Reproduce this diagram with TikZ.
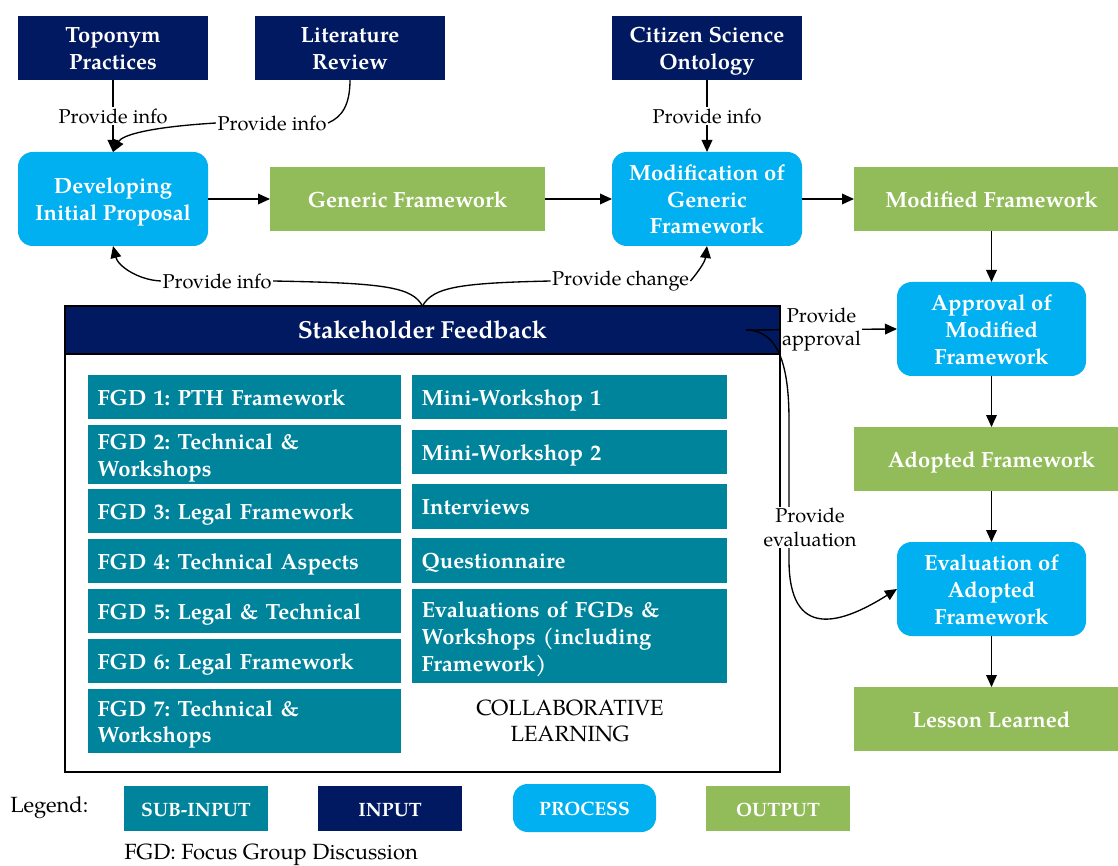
\documentclass[tikz,border=0pt]{standalone}
\usepackage{fontspec}
\setmainfont{TeX Gyre Pagella}
\usetikzlibrary{arrows.meta}
\definecolor{navy}{RGB}{0,25,96}
\definecolor{procblue}{RGB}{0,176,240}
\definecolor{outgreen}{RGB}{146,187,89}
\definecolor{subteal}{RGB}{0,132,155}
\frenchspacing
\newcommand\bfont{\fontsize{16.5}{20}\selectfont\bfseries}
\newcommand\hfont{\fontsize{18.5}{22}\selectfont\bfseries}
\newcommand\lfont{\fontsize{15}{17.5}\selectfont}
\newcommand\gfont{\fontsize{16.5}{19.5}\selectfont}
\newcommand\legbfont{\fontsize{14.5}{17}\selectfont\bfseries}
\newcommand\topstrut{\rule{0pt}{\dimexpr0.7\baselineskip+4.5pt\relax}}
\newcommand\bx[7]{%
  \pgfmathsetmacro\bw{(#4-#2)*0.75}%
  \pgfmathsetmacro\bh{(#5-#3)*0.75}%
  \node[#6, minimum width=\bw pt, minimum height=\bh pt] (#1) at ({(#2+#4)/2},{(#3+#5)/2}) {#7};}
\newcommand\sbx[6]{%
  \pgfmathsetmacro\bw{(#4-#2-19)*0.75}%
  \pgfmathsetmacro\bh{(#5-#3)*0.75}%
  \node[subbox, text width=\bw pt, minimum height=\bh pt] (#1) at ({(#2+#4)/2},{(#3+#5)/2}) {#6};}
\begin{document}
\begin{tikzpicture}[x=0.75pt,y=-0.75pt,
  base/.style={inner sep=0pt, outer sep=0pt, text=white, align=center, font=\bfont,
    execute at begin node=\topstrut, execute at end node=\strut},
  two/.style={text height=39pt, text depth=6.5pt},
  three/.style={text height=59pt, text depth=6.5pt},
  inbox/.style={base, fill=navy},
  procbox/.style={base, fill=procblue, rounded corners=11pt},
  outbox/.style={base, fill=outgreen},
  subbox/.style={base, fill=subteal, align=left, inner xsep=7pt},
  lbl/.style={fill=white, inner sep=1pt, font=\lfont, align=center, text=black},
  arr/.style={-{Triangle[length=9pt,width=8pt]}, line width=1pt},
  con/.style={line width=1pt}
]
\useasboundingbox (0,0) rectangle (1118,866);

% inputs
\bx{top}{18}{16}{208}{80}{inbox, two}{Toponym\\Practices}
\bx{lit}{255}{16}{445}{80}{inbox, two}{Literature\\Review}
\bx{cit}{612}{16}{802}{80}{inbox, two}{Citizen Science\\Ontology}
% processes and outputs
\bx{dev}{18}{152}{208}{246}{procbox, two}{Developing\\Initial Proposal}
\bx{gen}{270}{167}{545}{231}{outbox}{Generic Framework}
\bx{mod}{612}{152}{802}{246}{procbox, three}{Modification of\\Generic\\Framework}
\bx{mfw}{854}{167}{1129}{231}{outbox}{Modified Framework}
\bx{app}{897}{282}{1086}{376}{procbox, three}{Approval of\\Modified\\Framework}
\bx{adp}{854}{427}{1129}{491}{outbox}{Adopted Framework}
\bx{evl}{897}{542}{1086}{636}{procbox, three}{Evaluation of\\Adopted\\Framework}
\bx{les}{854}{687}{1129}{751}{outbox}{Lesson Learned}

% stakeholder feedback container
\bx{sfb}{65}{306}{780}{772}{draw=black, line width=1pt, inner sep=0pt}{}
\bx{hdr}{65}{306}{780}{354}{inbox, draw=black, line width=1pt, font=\hfont}{Stakeholder Feedback}

\sbx{f1}{88}{375}{401}{419}{FGD 1: PTH Framework}
\sbx{f2}{88}{426}{401}{483}{FGD 2: Technical \&\\Workshops}
\sbx{f3}{88}{489}{401}{533}{FGD 3: Legal Framework}
\sbx{f4}{88}{539}{401}{583}{FGD 4: Technical Aspects}
\sbx{f5}{88}{589}{401}{633}{FGD 5: Legal \& Technical}
\sbx{f6}{88}{639}{401}{683}{FGD 6: Legal Framework}
\sbx{f7}{88}{689}{401}{753}{FGD 7: Technical \&\\Workshops}
\sbx{m1}{412}{375}{727}{419}{Mini-Workshop 1}
\sbx{m2}{412}{430}{727}{474}{Mini-Workshop 2}
\sbx{iv}{412}{484}{727}{529}{Interviews}
\sbx{qn}{412}{538}{727}{583}{Questionnaire}
\sbx{ev}{412}{589}{727}{683}{Evaluations of FGDs \&\\Workshops (including\\Framework)}
\node[font=\gfont, align=center] (cl) at (570,721) {COLLABORATIVE\\LEARNING};

% main flow
\draw[arr] (dev.east) -- (gen.west);
\draw[arr] (gen.east) -- (mod.west);
\draw[arr] (mod.east) -- (mfw.west);
\draw[arr] (991.5,231) -- (app.north);
\draw[arr] (app.south) -- (991.5,427);
\draw[arr] (991.5,491) -- (evl.north);
\draw[arr] (evl.south) -- (991.5,687);

% inputs to processes
\draw[arr] (top.south) -- node[lbl, pos=0.5]{Provide info} (dev.north);
\draw[arr] (cit.south) -- node[lbl, pos=0.5]{Provide info} (mod.north);
\node[lbl] (l2) at (272,123) {Provide info};
\draw[con] (lit.south) .. controls (350,105) and (342,117) .. (l2.east);
\draw[arr] (l2.west) .. controls (150,127) and (122,135) .. (dev.north);

% feedback
\coordinate (ht) at (422.5,306);
\node[lbl] (bl) at (217,281) {Provide info};
\node[lbl] (bc) at (620.5,281) {Provide change};
\draw[con] (ht) .. controls (412,287) and (385,283) .. (bl.east);
\draw[con] (ht) .. controls (433,287) and (460,283) .. (bc.west);
\draw[arr] (bl.west) .. controls (138,280) and (118,266) .. (dev.south);
\draw[arr] (bc.east) .. controls (698,272) and (705,262) .. (mod.south);

\coordinate (sf) at (746,330);
\draw[arr] (sf) -- node[lbl, pos=0.5]{Provide\\approval} (app.west);
\draw[arr] (sf) .. controls (776,330) and (789,360) .. (789,420) -- (789,560)
  .. controls (789,640) and (840,625) .. (evl.west);
\node[lbl] (le) at (810,527.5) {Provide\\evaluation};

% legend
\node[font=\gfont, anchor=west, inner sep=0pt] (leg) at (10,808) {Legend:};
\bx{lsub}{124}{786}{268}{831}{base, fill=subteal, font=\legbfont}{SUB-INPUT}
\bx{lin}{318}{786}{462}{831}{inbox, font=\legbfont}{INPUT}
\bx{lpr}{513}{784}{656}{832}{procbox, font=\legbfont}{PROCESS}
\bx{lout}{706}{786}{850}{831}{outbox, font=\legbfont}{OUTPUT}
\node[font=\gfont, anchor=west, inner sep=0pt] (fgd) at (124,855) {FGD: Focus Group Discussion};
\end{tikzpicture}
\end{document}
